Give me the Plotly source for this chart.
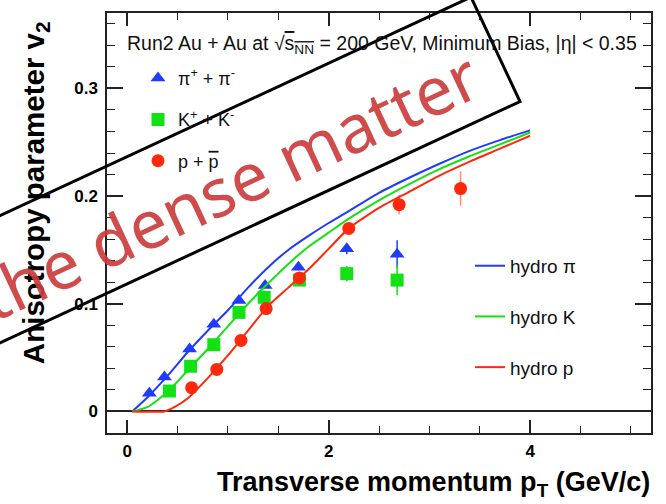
import plotly.graph_objects as go

# ---------------- data ----------------
pt_pi = [0.22, 0.37, 0.62, 0.86, 1.11, 1.37, 1.70, 2.18, 2.68]
v2_pi = [0.017, 0.032, 0.058, 0.081, 0.103, 0.117, 0.134, 0.151, 0.146]
err_pi = [0.001, 0.001, 0.001, 0.001, 0.002, 0.002, 0.003, 0.005, 0.013]

pt_k = [0.42, 0.63, 0.86, 1.11, 1.36, 1.71, 2.18, 2.68]
v2_k = [0.019, 0.042, 0.062, 0.092, 0.106, 0.122, 0.128, 0.122]
err_k = [0.002, 0.002, 0.002, 0.003, 0.004, 0.005, 0.007, 0.014]

pt_p = [0.64, 0.89, 1.13, 1.38, 1.71, 2.20, 2.70, 3.31]
v2_p = [0.022, 0.039, 0.066, 0.0955, 0.124, 0.170, 0.192, 0.207]
err_p = [0.002, 0.002, 0.002, 0.003, 0.004, 0.006, 0.009, 0.016]

hydro_pt = [0.05, 0.2, 0.4, 0.6, 0.8, 1.0, 1.2, 1.4, 1.6, 1.8, 2.0, 2.2, 2.5, 2.8, 3.1, 3.4, 3.7, 4.0]
hydro_pi = [0.0, 0.013, 0.033, 0.055, 0.075, 0.094, 0.115, 0.134, 0.150, 0.163, 0.175, 0.186, 0.203, 0.217, 0.230, 0.242, 0.252, 0.261]
hydro_k = [0.0, 0.004, 0.018, 0.038, 0.058, 0.079, 0.100, 0.119, 0.137, 0.153, 0.166, 0.179, 0.196, 0.211, 0.225, 0.237, 0.248, 0.259]
hydro_p_pt = [0.05, 0.37, 0.45, 0.6, 0.8, 1.0, 1.2, 1.4, 1.6, 1.8, 2.0, 2.2, 2.5, 2.8, 3.1, 3.4, 3.7, 4.0]
hydro_p = [0.0, 0.0, 0.003, 0.012, 0.031, 0.052, 0.075, 0.098, 0.115, 0.132, 0.151, 0.170, 0.189, 0.204, 0.219, 0.232, 0.244, 0.256]

x_ticks = [0, 2, 4]
y_ticks = [0, 0.1, 0.2, 0.3]

# ---------------- style ----------------
W, H = 666, 504
L, R, T, B = 107, 651, 11, 433
BLUE = "rgb(30,60,250)"
GREEN = "rgb(20,225,20)"
RED = "rgb(255,40,10)"
FONT = "Liberation Sans, Arial, sans-serif"


def pp(px, py):
    return (px - L) / (R - L), (B - py) / (B - T)


fig = go.Figure()

fig.add_trace(go.Scatter(
    x=pt_pi, y=v2_pi, mode="markers", name="π<sup>+</sup> + π<sup>-</sup>",
    marker=dict(symbol="triangle-up", size=13, color=BLUE),
    error_y=dict(type="data", array=err_pi, color=BLUE, thickness=1.5, width=0),
    legend="legend", legendgroup="a"))
fig.add_trace(go.Scatter(
    x=pt_k, y=v2_k, mode="markers", name="K<sup>+</sup> + K<sup>-</sup>",
    marker=dict(symbol="square", size=13, color=GREEN),
    error_y=dict(type="data", array=err_k, color=GREEN, thickness=1.5, width=0),
    legend="legend", legendgroup="b"))
fig.add_trace(go.Scatter(
    x=pt_p, y=v2_p, mode="markers",
    name="p + <span style='text-decoration:overline'>p</span>",
    marker=dict(symbol="circle", size=13, color=RED),
    error_y=dict(type="data", array=err_p, color="rgba(255,90,60,0.7)", thickness=1.5, width=0),
    legend="legend", legendgroup="c"))

fig.add_trace(go.Scatter(
    x=hydro_pt, y=hydro_pi, mode="lines", name="hydro π",
    line=dict(color=BLUE, width=2, shape="spline", smoothing=0.6),
    legend="legend2", legendgroup="d"))
fig.add_trace(go.Scatter(
    x=hydro_pt, y=hydro_k, mode="lines", name="hydro K",
    line=dict(color=GREEN, width=2, shape="spline", smoothing=0.6),
    legend="legend2", legendgroup="e"))
fig.add_trace(go.Scatter(
    x=hydro_p_pt, y=hydro_p, mode="lines", name="hydro p",
    line=dict(color=RED, width=2, shape="spline", smoothing=0.6),
    legend="legend2", legendgroup="f"))

axis_common = dict(
    showline=True, linecolor="#222", linewidth=1.5, mirror="ticks",
    ticks="inside", tickcolor="#222", tickwidth=1.5, showgrid=False,
    tickfont=dict(family=FONT, size=17, color="black", weight="bold"),
)

fig.update_xaxes(
    range=[-0.2, 5.2], tickvals=x_ticks, ticklen=13, zeroline=False,
    minor=dict(dtick=0.5, tick0=0, ticklen=7, ticks="inside", tickcolor="#222", tickwidth=1.2),
    ticklabelstandoff=2, **axis_common)
fig.update_yaxes(
    range=[-0.02, 0.37], tickvals=y_ticks, ticklen=16,
    zeroline=True, zerolinecolor="#222", zerolinewidth=1.5,
    minor=dict(dtick=0.02, tick0=0, ticklen=8, ticks="inside", tickcolor="#222", tickwidth=1.2),
    ticklabelstandoff=4, **axis_common)

lx1, ly1 = pp(138, 58)
lx2, ly2 = pp(470, 246)
fig.update_layout(
    width=W, height=H,
    margin=dict(l=L, r=W - R, t=T, b=H - B),
    paper_bgcolor="white", plot_bgcolor="white",
    legend=dict(x=lx1, y=ly1, xanchor="left", yanchor="top", bgcolor="rgba(0,0,0,0)",
                font=dict(family=FONT, size=18, color="#111"), tracegroupgap=15,
                itemwidth=30),
    legend2=dict(x=lx2, y=ly2, xanchor="left", yanchor="top", bgcolor="rgba(0,0,0,0)",
                 font=dict(family=FONT, size=19, color="#111"), tracegroupgap=23,
                 itemwidth=30),
)

# header text
hx, hy = pp(382, 43)
fig.add_annotation(
    x=hx, y=hy, xref="paper", yref="paper", showarrow=False, xanchor="center", yanchor="middle",
    text="Run2 Au + Au at √<span style='text-decoration:overline'>s<sub>NN</sub></span> = 200 GeV, Minimum Bias, |η| < 0.35",
    font=dict(family=FONT, size=19.5, color="#111"))

# axis titles
tx, ty = pp(652, 484)
fig.add_annotation(
    x=tx, y=ty, xref="paper", yref="paper", showarrow=False, xanchor="right", yanchor="middle",
    text="Transverse momentum p<sub>T</sub> (GeV/c)",
    font=dict(family=FONT, size=27, color="black", weight="bold"))
yx, yy = pp(35, 192)
fig.add_annotation(
    x=yx, y=yy, xref="paper", yref="paper", showarrow=False, xanchor="center", yanchor="middle",
    textangle=-90, text="Anisotropy parameter v<sub>2</sub>",
    font=dict(family=FONT, size=29.5, color="black", weight="bold"))

# watermark box and text
corners = [(471, -5), (520, 100), (-295, 480), (-344, 375)]
pts = [pp(cx, cy) for cx, cy in corners]
path = "M " + " L ".join(f"{a:.4f},{b:.4f}" for a, b in pts) + " Z"
fig.add_shape(type="path", path=path, xref="paper", yref="paper",
              line=dict(color="black", width=3), fillcolor="rgba(0,0,0,0)", layer="above")
wx, wy = pp(228, 184)
fig.add_annotation(
    x=wx, y=wy, xref="paper", yref="paper", showarrow=False, xanchor="center", yanchor="middle",
    textangle=-25, text="the dense matter",
    font=dict(family="Noto Sans", size=67, color="rgba(204,60,60,0.92)"))

fig.write_html("out.html", config={"displayModeBar": False},
               post_script="document.body.style.margin='0px';")
